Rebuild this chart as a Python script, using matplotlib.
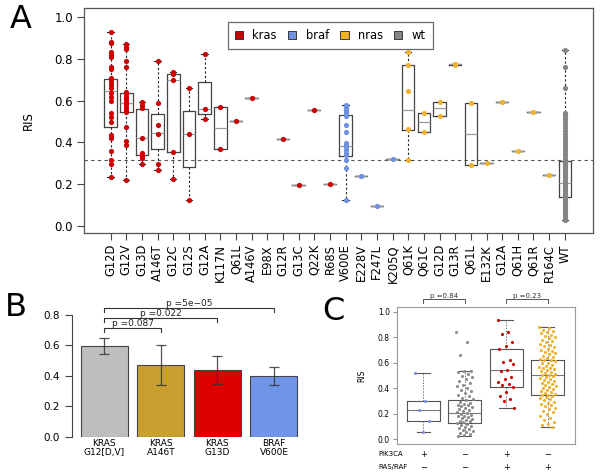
import numpy as np
import matplotlib
matplotlib.use("Agg")
import matplotlib.pyplot as plt
from matplotlib.patches import Patch
from matplotlib.transforms import blended_transform_factory

# ---------------- panel A data ----------------
mutations = ["G12D", "G12V", "G13D", "A146T", "G12C", "G12S", "G12A", "K117N", "Q61L",
             "A146V", "E98X", "G12R", "G13C", "Q22K", "R68S", "V600E", "E228V", "F247L",
             "K205Q", "Q61K", "Q61C", "G12D", "G13R", "Q61L", "E132K", "G12A", "Q61H",
             "Q61R", "R164C", "WT"]
genes = ["kras"] * 15 + ["braf"] * 4 + ["nras"] * 10 + ["wt"]

wt_ris = [0.842, 0.759, 0.663, 0.539, 0.532, 0.525, 0.51, 0.498, 0.485, 0.47, 0.455, 0.44,
          0.428, 0.415, 0.40, 0.388, 0.375, 0.362, 0.35, 0.338, 0.325, 0.313, 0.305, 0.296,
          0.288, 0.28, 0.272, 0.265, 0.258, 0.25, 0.243, 0.236, 0.228, 0.22, 0.214, 0.207,
          0.2, 0.193, 0.186, 0.18, 0.173, 0.166, 0.16, 0.153, 0.146, 0.14, 0.132, 0.125,
          0.117, 0.11, 0.102, 0.094, 0.086, 0.078, 0.07, 0.062, 0.054, 0.046, 0.038, 0.03,
          0.026]

ris_points = [
    [0.93, 0.882, 0.874, 0.834, 0.821, 0.81, 0.762, 0.751, 0.711, 0.702, 0.691, 0.675, 0.659,
     0.638, 0.619, 0.6, 0.539, 0.523, 0.496, 0.435, 0.423, 0.359, 0.316, 0.295, 0.233],
    [0.872, 0.858, 0.847, 0.789, 0.762, 0.643, 0.63, 0.619, 0.608, 0.595, 0.584, 0.571,
     0.555, 0.544, 0.472, 0.408, 0.388, 0.22],
    [0.595, 0.579, 0.563, 0.419, 0.347, 0.335, 0.327, 0.295],
    [0.789, 0.59, 0.482, 0.439, 0.295, 0.266],
    [0.738, 0.73, 0.699, 0.356, 0.226],
    [0.659, 0.439, 0.124],
    [0.823, 0.558, 0.514],
    [0.568, 0.37],
    [0.502],
    [0.614],
    [],
    [0.418],
    [0.195],
    [0.555],
    [0.203],
    [0.579, 0.574, 0.568, 0.563, 0.556, 0.55, 0.539, 0.526, 0.483, 0.451, 0.399, 0.388,
     0.376, 0.364, 0.351, 0.338, 0.316, 0.276, 0.124],
    [0.241],
    [0.097],
    [0.319],
    [0.831, 0.77, 0.646, 0.463, 0.316],
    [0.539, 0.451],
    [0.595, 0.528],
    [0.775, 0.772],
    [0.587, 0.293],
    [0.303],
    [0.595],
    [0.357],
    [0.544],
    [0.244],
    wt_ris,
]

# box quartiles (q1, median, q3)
box_q1 = [0.472, 0.544, 0.34, 0.367, 0.356, 0.281, 0.534, 0.37, 0.502, 0.614, None, 0.418,
          0.195, 0.555, 0.203, 0.335, 0.241, 0.097, 0.319, 0.459, 0.451, 0.528, 0.772,
          0.293, 0.303, 0.595, 0.357, 0.544, 0.244, 0.137]
box_med = [0.644, 0.587, 0.419, 0.443, 0.699, 0.439, 0.558, 0.467, 0.502, 0.614, None, 0.418,
           0.195, 0.555, 0.203, 0.384, 0.241, 0.097, 0.319, 0.555, 0.496, 0.563, 0.774,
           0.44, 0.303, 0.595, 0.357, 0.544, 0.244, 0.207]
box_q3 = [0.705, 0.635, 0.558, 0.534, 0.727, 0.549, 0.691, 0.568, 0.502, 0.614, None, 0.418,
          0.195, 0.555, 0.203, 0.53, 0.241, 0.097, 0.319, 0.77, 0.539, 0.595, 0.776,
          0.587, 0.303, 0.595, 0.357, 0.544, 0.244, 0.313]
threshold = 0.314

gene_colors = {"kras": "#cc0000", "braf": "#7090e0", "nras": "#eeb22e", "wt": "#858585"}

# ---------------- panel B data ----------------
bar_labels = ["KRAS\nG12[D,V]", "KRAS\nA146T", "KRAS\nG13D", "BRAF\nV600E"]
bar_means = [0.597, 0.47, 0.441, 0.40]
bar_lo = [0.544, 0.338, 0.347, 0.342]
bar_hi = [0.647, 0.601, 0.533, 0.461]
bar_colors = ["#bebebe", "#c9a030", "#dd0000", "#7095e8"]
b_pvals = [("p =0.087", 1, 0.713), ("p =0.022", 2, 0.779), ("p =5e\u221205", 3, 0.845)]

# ---------------- panel C data ----------------
pik3ca_signs = ["+", "\u2212", "+", "\u2212"]
rasraf_signs = ["\u2212", "\u2212", "+", "+"]
c_colors = ["#7b8ee0", "#8c8c8c", "#cc0000", "#eeb22e"]
c_blue = [0.522, 0.30, 0.227, 0.146, 0.055]
c_red = [0.932, 0.838, 0.825, 0.764, 0.728, 0.71, 0.619, 0.603, 0.592, 0.543, 0.537, 0.485,
         0.472, 0.446, 0.431, 0.425, 0.41, 0.368, 0.341, 0.316, 0.30, 0.243]
c_orange = [0.882, 0.87, 0.86, 0.85, 0.84, 0.83, 0.82, 0.81, 0.80, 0.79, 0.78, 0.77, 0.76,
            0.75, 0.74, 0.73, 0.72, 0.71, 0.70, 0.69, 0.685, 0.675, 0.665, 0.655, 0.645,
            0.64, 0.63, 0.625, 0.618, 0.61, 0.60, 0.595, 0.585, 0.578, 0.57, 0.562, 0.555,
            0.548, 0.54, 0.532, 0.525, 0.518, 0.51, 0.506, 0.50, 0.492, 0.485, 0.478, 0.47,
            0.462, 0.455, 0.448, 0.44, 0.432, 0.425, 0.418, 0.41, 0.402, 0.395, 0.388, 0.38,
            0.372, 0.365, 0.358, 0.35, 0.344, 0.338, 0.33, 0.322, 0.315, 0.305, 0.296, 0.288,
            0.278, 0.268, 0.258, 0.248, 0.236, 0.224, 0.21, 0.196, 0.18, 0.165, 0.15, 0.135,
            0.12, 0.11, 0.094]
c_groups = [c_blue, wt_ris, c_red, c_orange]
c_q1 = [0.146, 0.13, 0.407, 0.344]
c_med = [0.229, 0.204, 0.543, 0.506]
c_q3 = [0.302, 0.305, 0.705, 0.618]
c_whislo = [0.055, 0.026, 0.243, 0.094]
c_whishi = [0.522, 0.537, 0.932, 0.882]
c_pvals = [("p =0.84", 0, 1), ("p =0.23", 2, 3)]

W, H = 600, 475
fig = plt.figure(figsize=(6, 4.75), dpi=100)


def px_axes(left, top, right, bottom):
    return fig.add_axes([left / W, 1 - bottom / H, (right - left) / W, (bottom - top) / H])


# ================= panel A =================
axA = px_axes(84, 8, 593, 233)
pos = np.arange(1, len(mutations) + 1)
stats, spos = [], []
for i, pts in enumerate(ris_points):
    if not pts:
        continue
    stats.append(dict(q1=box_q1[i], med=box_med[i], q3=box_q3[i],
                      whislo=min(pts), whishi=max(pts), fliers=[]))
    spos.append(pos[i])
axA.bxp(stats, positions=spos, widths=0.8, showfliers=False, capwidths=0.4,
        boxprops=dict(color="#444444", linewidth=0.9),
        medianprops=dict(color="#9a9a9a", linewidth=0.9),
        whiskerprops=dict(color="#222222", linewidth=0.8, linestyle=(0, (2, 2))),
        capprops=dict(color="#222222", linewidth=0.8))
for i, pts in enumerate(ris_points):
    if pts:
        axA.scatter([pos[i]] * len(pts), pts, s=14, color=gene_colors[genes[i]],
                    zorder=3, linewidths=0)
axA.axhline(threshold, color="#555555", linewidth=0.8, linestyle=(0, (3, 3)), zorder=1)
axA.set_xlim(-0.7, 31.8)
axA.set_ylim(-0.034, 1.044)
axA.set_xticks(pos)
axA.set_xticklabels(mutations, rotation=90, fontsize=8.3)
axA.set_yticks([0, 0.2, 0.4, 0.6, 0.8, 1.0])
axA.set_yticklabels(["0.0", "0.2", "0.4", "0.6", "0.8", "1.0"], fontsize=8.5)
axA.tick_params(length=5, width=0.8, color="#444444", pad=3)
axA.set_ylabel("RIS", fontsize=8.5, labelpad=14)
for s in axA.spines.values():
    s.set_color("#555555")
    s.set_linewidth(0.9)
handles = [Patch(facecolor=gene_colors[g], edgecolor="#222222", linewidth=0.6, label=g)
           for g in ["kras", "braf", "nras", "wt"]]
axA.legend(handles=handles, loc="upper center", bbox_to_anchor=(0.484, 0.962), ncol=4,
           fontsize=8.3, frameon=True, fancybox=False, edgecolor="#444444",
           handlelength=0.7, handleheight=0.7, columnspacing=1.0, handletextpad=0.8,
           borderpad=0.6)
axA.get_legend().get_frame().set_linewidth(0.9)

# ================= panel B =================
axB = px_axes(72, 290, 300, 436.7)
xb = np.arange(len(bar_means))
err = [np.array(bar_means) - np.array(bar_lo), np.array(bar_hi) - np.array(bar_means)]
axB.bar(xb, bar_means, width=0.83, color=bar_colors, edgecolor="#444444", linewidth=0.8)
axB.errorbar(xb, bar_means, yerr=err, fmt="none", ecolor="#333333", elinewidth=0.9,
             capsize=3.6, capthick=0.9, alpha=0.85)
for text, j, y in b_pvals:
    axB.plot([0, 0, j, j], [y - 0.026, y, y, y - 0.026], color="#333333", linewidth=0.8,
             clip_on=False)
    axB.text(j / 2, y + 0.004, text, ha="center", va="bottom", fontsize=6.5, color="#222222")
axB.set_xlim(-0.57, 3.46)
axB.set_ylim(0, 0.965)
axB.set_xticks(xb)
axB.set_xticklabels(bar_labels, fontsize=6.5, linespacing=0.95)
axB.tick_params(axis="x", length=0, pad=2)
axB.set_yticks([0, 0.2, 0.4, 0.6, 0.8])
axB.set_yticklabels(["0.0", "0.2", "0.4", "0.6", "0.8"], fontsize=7.5)
axB.tick_params(axis="y", length=5, width=0.8, color="#444444")
for side in ["top", "right", "bottom"]:
    axB.spines[side].set_visible(False)
axB.spines["left"].set_bounds(0, 0.8)
axB.spines["left"].set_color("#444444")
axB.spines["left"].set_linewidth(0.8)

# ================= panel C =================
axC = px_axes(396.7, 306.7, 575.3, 444)
cstats = [dict(q1=c_q1[k], med=c_med[k], q3=c_q3[k], whislo=c_whislo[k],
               whishi=c_whishi[k], fliers=[]) for k in range(4)]
axC.bxp(cstats, positions=range(4), widths=0.8, showfliers=False, capwidths=0.32,
        boxprops=dict(color="#555555", linewidth=0.8),
        medianprops=dict(color="#777777", linewidth=0.8),
        whiskerprops=dict(color="#777777", linewidth=0.7, linestyle=(0, (1.5, 1.5))),
        capprops=dict(color="#555555", linewidth=0.8))
for k, vals in enumerate(c_groups):
    n = len(vals)
    off = ((np.arange(n) * 0.6180339) % 1 - 0.5) * 0.4
    axC.scatter(k + off, vals, s=5, color=c_colors[k], zorder=3, linewidths=0)
for text, a, b in c_pvals:
    axC.plot([a, a, b, b], [1.07, 1.096, 1.096, 1.07], color="#555555", linewidth=0.7,
             clip_on=False)
    axC.text((a + b) / 2, 1.1, text, ha="center", va="bottom", fontsize=5, color="#333333")
axC.set_xlim(-0.64, 3.67)
axC.set_ylim(-0.037, 1.039)
axC.set_xticks([])
axC.set_yticks([0, 0.2, 0.4, 0.6, 0.8, 1.0])
axC.set_yticklabels(["0.0", "0.2", "0.4", "0.6", "0.8", "1.0"], fontsize=5.5)
axC.tick_params(axis="y", length=3, width=0.6, color="#777777", pad=2)
axC.set_ylabel("RIS", fontsize=5.5, labelpad=8)
for s in axC.spines.values():
    s.set_color("#999999")
    s.set_linewidth(0.8)
tr = blended_transform_factory(axC.transData, axC.transAxes)
axC.text(-1.09, -0.075, "PIK3CA", transform=tr, fontsize=5, ha="left", va="center")
axC.text(-1.09, -0.17, "RAS/RAF", transform=tr, fontsize=5, ha="left", va="center")
for k in range(4):
    axC.text(k, -0.075, pik3ca_signs[k], transform=tr, fontsize=6, ha="center", va="center")
    axC.text(k, -0.17, rasraf_signs[k], transform=tr, fontsize=6, ha="center", va="center")

# panel letters
fig.text(21 / W, 1 - 19 / H, "A", fontsize=23, ha="center", va="center")
fig.text(16 / W, 1 - 307 / H, "B", fontsize=23, ha="center", va="center")
fig.text(333 / W, 1 - 312 / H, "C", fontsize=23, ha="center", va="center")

fig.savefig("out.png", dpi=100)
